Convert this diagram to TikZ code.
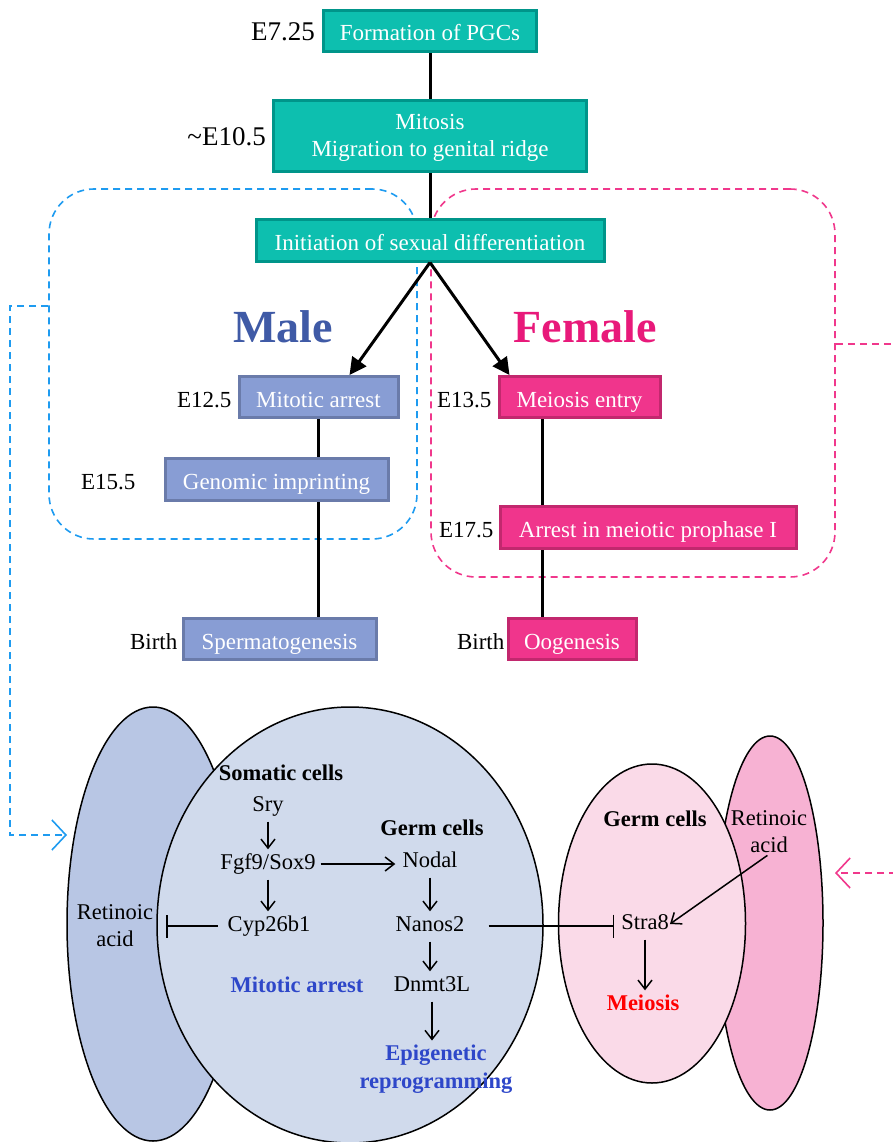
\documentclass[tikz,border=0pt]{standalone}
\usepackage{fontspec}
\setmainfont{Liberation Serif}
\usepackage{tikz}
\usetikzlibrary{arrows.meta,positioning,shapes.geometric}
\definecolor{tealfill}{HTML}{0DBFAF}
\definecolor{tealline}{HTML}{00958A}
\definecolor{malefill}{HTML}{889DD4}
\definecolor{maleline}{HTML}{6A7BAA}
\definecolor{femfill}{HTML}{F0358C}
\definecolor{femline}{HTML}{C2286E}
\definecolor{maletitle}{HTML}{3F5AA6}
\definecolor{femtitle}{HTML}{E8197A}
\definecolor{maledash}{HTML}{1E9BF0}
\definecolor{femdash}{HTML}{F0388C}
\definecolor{outcome}{HTML}{2E47C9}
\definecolor{rasoma}{HTML}{B8C6E4}
\definecolor{somacell}{HTML}{D0DAEC}
\definecolor{germcell}{HTML}{FADAE8}
\definecolor{ragerm}{HTML}{F7B2D3}

\begin{document}
\begin{tikzpicture}[x=1pt,y=-1pt,
  stage/.style={draw, line width=3pt, text=white, minimum height=41pt, inner sep=0pt,
    text height=20pt, text depth=0pt, font=\fontsize{23}{27}\selectfont},
  common/.style={stage, fill=tealfill, draw=tealline},
  malebox/.style={stage, fill=malefill, draw=maleline},
  fembox/.style={stage, fill=femfill, draw=femline},
  datelab/.style={inner sep=0pt, text height=20pt, text depth=0pt, font=\fontsize{23}{27}\selectfont},
  bigdate/.style={inner sep=0pt, text height=19pt, text depth=0pt, font=\fontsize{27}{30}\selectfont},
  sextitle/.style={font=\fontsize{46}{50}\selectfont\bfseries},
  timeline/.style={line width=3pt},
  branch/.style={line width=3pt, -{Triangle[length=17pt,width=17pt]}},
  mgroup/.style={draw=maledash, line width=1.6pt, dash pattern=on 7pt off 5pt, rounded corners=45pt},
  fgroup/.style={draw=femdash, line width=1.6pt, dash pattern=on 7pt off 5pt, rounded corners=45pt},
  mlink/.style={draw=maledash, line width=1.6pt, dash pattern=on 7pt off 5pt},
  flink/.style={draw=femdash, line width=1.6pt, dash pattern=on 7pt off 5pt},
  cell/.style={ellipse, draw, line width=1.5pt, inner sep=0pt},
  gene/.style={inner sep=1pt, text height=16pt, text depth=5pt, font=\fontsize{22.5}{27}\selectfont},
  head/.style={gene, font=\fontsize{22.5}{27}\selectfont\bfseries},
  twoline/.style={inner sep=1pt, align=center, font=\fontsize{22.5}{27}\selectfont},
  act/.style={line width=1.5pt, -{Straight Barb[length=9pt,width=14pt]}},
  inhib/.style={line width=1.5pt, -{Bar[width=23pt]}},
  down/.style={act, shorten <=4pt, shorten >=3pt}
]
\useasboundingbox (0,0) rectangle (893,1142);

% male / female windows
\node[mgroup, minimum width=368pt, minimum height=350pt] (malegrp) at (233,364) {};
\node[fgroup, minimum width=404pt, minimum height=388pt] (femgrp) at (633,383) {};

% common timeline
\node[common, minimum width=213pt] (pgc) at (430,31) {Formation of PGCs};
\node[bigdate, left=7pt of pgc] {E7.25};
\node[common, minimum width=313pt, minimum height=71pt, align=center, text height=42pt] (mito) at (430,136) {Mitosis\\Migration to genital ridge};
\node[bigdate, left=6pt of mito] {\textasciitilde E10.5};
\node[common, minimum width=348pt, minimum height=42pt] (init) at (430,240) {Initiation of sexual differentiation};
\draw[timeline] (pgc) -- (mito);
\draw[timeline] (mito) -- (init);

\node[sextitle, text=maletitle] (maletitle) at (283,327) {Male};
\node[sextitle, text=femtitle] (femtitle) at (585,327) {Female};

% male branch
\node[malebox, minimum width=159pt] (marr) at (318.5,397) {Mitotic arrest};
\node[datelab, left=6pt of marr] {E12.5};
\node[malebox, minimum width=223pt, minimum height=42pt] (imprint) at (276.5,479.5) {Genomic imprinting};
\node[datelab, left=28pt of imprint] {E15.5};
\node[malebox, minimum width=193pt] (sperm) at (279.5,639) {Spermatogenesis};
\node[datelab, left=4pt of sperm] {Birth};
\draw[timeline] (marr.south) -- (marr.south |- imprint.north);
\draw[timeline] (marr.south |- imprint.south) -- (marr.south |- sperm.north);

% female branch
\node[fembox, minimum width=161pt] (mentry) at (579.5,397) {Meiosis entry};
\node[datelab, left=6pt of mentry] {E13.5};
\node[fembox, minimum width=296pt, minimum height=42pt] (prophase) at (648,527.5) {Arrest in meiotic prophase I};
\node[datelab, left=5pt of prophase] {E17.5};
\node[fembox, minimum width=128pt] (oogen) at (572,639) {Oogenesis};
\node[datelab, left=2pt of oogen] {Birth};
\coordinate (fline) at ([xshift=-37pt]mentry.south);
\draw[timeline] (fline) -- (fline |- prophase.north);
\draw[timeline] (fline |- prophase.south) -- (fline |- oogen.north);

\draw[branch] (init.south) -- ([xshift=31pt]marr.north);
\draw[branch] (init.south) -- ([xshift=-70pt]mentry.north);

% links down to the gonads
\coordinate (bluein) at (67,835);
\coordinate (pinkout) at (896,873);
\coordinate (pinkin) at (835,873);
\draw[mlink, -{Straight Barb[length=14pt,width=30pt]}] ([yshift=58pt]malegrp.west) -- ++(-38,0) |- (bluein);
\draw[flink] ([yshift=39pt]femgrp.east) -- ++(63,0);
\draw[flink, -{Straight Barb[length=14pt,width=30pt]}] (pinkout) -- (pinkin);

% testis
\node[cell, fill=rasoma, minimum width=172pt, minimum height=434pt] (rasomacell) at (153,924) {};
\node[cell, fill=somacell, minimum width=386pt, minimum height=436pt] (soma) at (350,925) {};
\node[head] (somahead) at (281,775) {Somatic cells};
\node[gene] (sry) at (268,806) {Sry};
\node[gene] (fgf) at (268,864) {Fgf9/Sox9};
\node[gene] (cyp) at (269,926) {Cyp26b1};
\node[twoline] (ra1) at (115,926) {Retinoic\\acid};
\node[head, text=outcome] (mitarr) at (297,987) {Mitotic arrest};
\node[head] (germhead1) at (432,830) {Germ cells};
\node[gene] (nodal) at (430,862) {Nodal};
\node[gene] (nanos) at (430,926) {Nanos2};
\node[gene] (dnmt) at (432,986) {Dnmt3L};
\node[twoline, font=\fontsize{22.5}{28}\selectfont\bfseries, text=outcome] (epi) at (436,1069) {Epigenetic\\reprogramming};

% ovary
\node[cell, fill=ragerm, minimum width=106pt, minimum height=374pt] (ragermcell) at (770,923) {};
\node[cell, fill=germcell, minimum width=187pt, minimum height=319pt] (germ) at (652,923.5) {};
\node[head] (germhead2) at (655,821) {Germ cells};
\node[twoline] (ra2) at (769,832) {Retinoic\\acid};
\node[gene] (stra) at (645,924) {Stra8};
\node[head, text=red] (meio) at (643,1005) {Meiosis};

\foreach \a/\b in {sry/fgf,fgf/cyp,nodal/nanos,nanos/dnmt,dnmt/epi,stra/meio}
  \draw[down] (\a.south) -- (\a.south |- \b.north);
\draw[act, shorten <=4pt, shorten >=6pt] (fgf.east) -- (fgf.east -| nodal.west);
\draw[inhib, shorten <=9pt, shorten >=12pt] (cyp.west) -- (cyp.west -| ra1.east);
\draw[inhib, shorten <=23pt, shorten >=6pt] (nanos.east) -- (nanos.east -| stra.west);
\draw[act, shorten <=2pt] (ra2.south) -- (stra.east);
\end{tikzpicture}
\end{document}
